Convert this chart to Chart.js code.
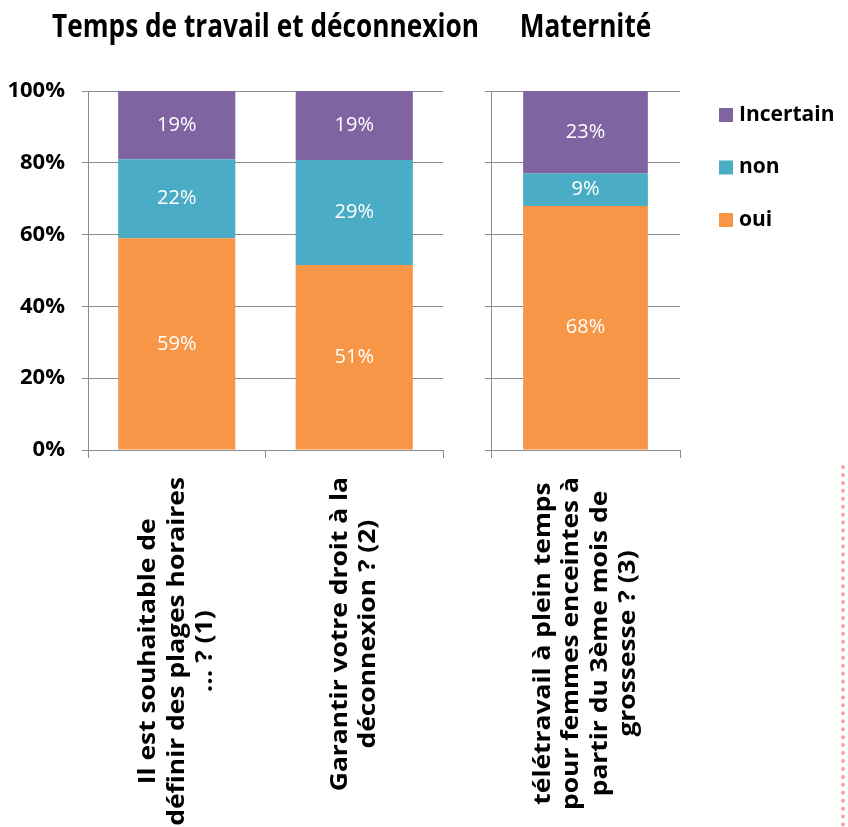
<!DOCTYPE html>
<html>
<head>
<meta charset="utf-8">
<script src="https://cdn.jsdelivr.net/npm/chart.js@4.4.0/dist/chart.umd.min.js"></script>
<style>
  html, body { margin: 0; padding: 0; background: #fff; }
  #wrap { position: relative; width: 848px; height: 827px; overflow: hidden; }
  #chartTravail { position: absolute; left: 0; top: 0; }
  #chartMaternite { position: absolute; left: 460px; top: 0; }
  #deco { position: absolute; left: 841px; top: 465px; height: 362px; border-left: 4px dotted #f7a3a3; }
</style>
</head>
<body>
<div id="wrap">
  <canvas id="chartTravail" width="500" height="827"></canvas>
  <canvas id="chartMaternite" width="388" height="827"></canvas>
  <div id="deco"></div>
</div>
<script>
// Données (en %)
const categoriesTravail = [
    ['Il est souhaitable de', 'définir des plages horaires', '... ? (1)'],
    ['Garantir votre droit à la', 'déconnexion ? (2)']
];
const ouiTravail = [59, 51];
const nonTravail = [22, 29];
const incertainTravail = [19, 19];

const categoriesMaternite = [
    ['télétravail à plein temps', 'pour femmes enceintes à', 'partir du 3ème mois de', 'grossesse ? (3)']
];
const ouiMaternite = [68];
const nonMaternite = [9];
const incertainMaternite = [23];

const yTicks = [0, 20, 40, 60, 80, 100];

const couleurOui = '#F79646';
const couleurNon = '#4BACC6';
const couleurIncertain = '#8064A2';
const gris = '#8c8c8c';

// histogramme empilé à 100% (comme Excel)
function part(serie, i, series) {
    const total = series.reduce((s, a) => s + a[i], 0);
    return serie[i] / total * 100;
}

const etiquettes = {
    id: 'etiquettes',
    afterDatasetsDraw(chart) {
        const ctx = chart.ctx;
        ctx.save();
        ctx.fillStyle = '#fff';
        ctx.font = '20px "Open Sans"';
        ctx.textAlign = 'center';
        ctx.textBaseline = 'middle';
        chart.data.datasets.forEach((ds, d) => {
            chart.getDatasetMeta(d).data.forEach((bar, i) => {
                ctx.fillText(ds.brut[i] + '%', bar.x, (bar.y + bar.base) / 2);
            });
        });
        ctx.restore();
    },
    afterDraw(chart, args, opts) {
        const ctx = chart.ctx;
        const area = chart.chartArea;
        const x = chart.scales.x;
        ctx.save();
        ctx.fillStyle = '#000';

        // titre (police étroite : on comprime l'Open Sans)
        ctx.save();
        ctx.font = 'bold 32px "Open Sans"';
        ctx.textAlign = 'center';
        ctx.textBaseline = 'alphabetic';
        ctx.translate((area.left + area.right) / 2, 37);
        ctx.scale(0.82, 1);
        ctx.fillText(opts.titre, 0, 0);
        ctx.restore();

        // libellés des catégories, verticaux et centrés
        ctx.font = 'bold 24px "Open Sans"';
        ctx.textAlign = 'center';
        ctx.textBaseline = 'middle';
        const etire = 1.1;
        chart.data.labels.forEach((lignes, i) => {
            const cx = x.getPixelForTick(i);
            const w = Math.max(...lignes.map(l => ctx.measureText(l).width)) * etire;
            const cy = x.bottom + 19 + w / 2;
            lignes.forEach((l, j) => {
                ctx.save();
                ctx.translate(cx + (j - (lignes.length - 1) / 2) * 28.5, cy);
                ctx.rotate(-Math.PI / 2);
                ctx.scale(etire, 1);
                ctx.fillText(l, 0, 0);
                ctx.restore();
            });
        });

        // légende
        if (opts.legende) {
            ctx.font = 'bold 21px "Open Sans"';
            ctx.textAlign = 'left';
            const ds = chart.data.datasets.slice().reverse();
            ds.forEach((d, k) => {
                const y = area.top + 24 + k * 52.5;
                ctx.fillStyle = d.backgroundColor;
                ctx.fillRect(area.right + 39, y - 7, 14, 14);
                ctx.fillStyle = '#000';
                ctx.fillText(d.label, area.right + 59, y);
            });
        }
        ctx.restore();
    }
};

function creerGraphique(id, labels, oui, non, incertain, options) {
    const series = [oui, non, incertain];
    const norm = s => s.map((v, i) => part(s, i, series));
    return new Chart(document.getElementById(id), {
        type: 'bar',
        data: {
            labels: labels,
            datasets: [{
                label: 'oui',
                data: norm(oui),
                brut: oui,
                backgroundColor: couleurOui
            }, {
                label: 'non',
                data: norm(non),
                brut: non,
                backgroundColor: couleurNon
            }, {
                label: 'Incertain',
                data: norm(incertain),
                brut: incertain,
                backgroundColor: couleurIncertain
            }]
        },
        options: {
            responsive: false,
            animation: false,
            barPercentage: 0.66,
            categoryPercentage: 1,
            layout: {
                padding: options.padding
            },
            scales: {
                x: {
                    stacked: true,
                    border: { color: gris },
                    grid: {
                        color: gris,
                        drawOnChartArea: false,
                        drawTicks: true,
                        tickLength: 8,
                        offset: true
                    },
                    ticks: { display: false }
                },
                y: {
                    stacked: true,
                    min: 0,
                    max: 100,
                    afterBuildTicks: axis => {
                        axis.ticks = yTicks.map(v => ({ value: v }));
                    },
                    afterFit: axis => {
                        axis.width = options.yWidth;
                    },
                    border: { color: gris },
                    grid: {
                        color: gris,
                        tickLength: 6
                    },
                    ticks: {
                        display: options.yLabels,
                        color: '#000',
                        padding: 17,
                        font: { family: 'Open Sans', size: 22, weight: 'bold' },
                        callback: v => v + '%'
                    }
                }
            },
            plugins: {
                legend: { display: false },
                tooltip: { enabled: false },
                etiquettes: {
                    titre: options.titre,
                    legende: options.legende
                }
            }
        },
        plugins: [etiquettes]
    });
}

creerGraphique('chartTravail', categoriesTravail, ouiTravail, nonTravail, incertainTravail, {
    titre: 'Temps de travail et déconnexion',
    padding: { left: 8, right: 57, top: 91, bottom: 369 },
    yWidth: 80,
    yLabels: true,
    legende: false
});

creerGraphique('chartMaternite', categoriesMaternite, ouiMaternite, nonMaternite, incertainMaternite, {
    titre: 'Maternité',
    padding: { left: 25, right: 168, top: 91, bottom: 369 },
    yWidth: 6,
    yLabels: false,
    legende: true
});
</script>
</body>
</html>
